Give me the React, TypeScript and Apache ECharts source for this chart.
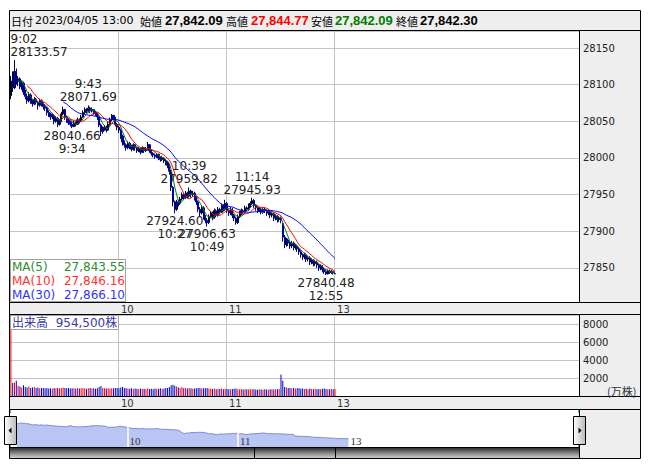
import React, { useEffect, useRef } from 'react';
import * as echarts from 'echarts';

// 1-minute candles [open, close, low, high], 9:00 .. 11:30, 12:31 .. 13:00
const candles: number[][] = [
  [28085, 28105, 28080, 28112], [28105, 28096, 28090, 28118], [28096, 28118, 28094, 28133.57], [28118, 28104, 28100, 28122], [28104, 28108, 28098, 28112],
  [28108, 28097, 28094, 28110], [28097, 28102, 28093, 28106], [28102, 28090, 28086, 28104], [28090, 28084, 28080, 28093], [28084, 28078, 28074, 28088],
  [28078, 28086, 28076, 28090], [28086, 28078, 28074, 28088], [28078, 28074, 28070, 28080], [28074, 28080, 28072, 28083], [28080, 28076, 28073, 28082],
  [28076, 28072, 28066, 28078], [28072, 28078, 28070, 28081], [28078, 28074, 28070, 28080], [28074, 28070, 28066, 28076], [28070, 28068, 28064, 28073],
  [28068, 28062, 28058, 28070], [28062, 28060, 28056, 28065], [28060, 28056, 28052, 28062], [28056, 28058, 28053, 28061], [28058, 28050, 28046, 28060],
  [28050, 28054, 28048, 28057], [28054, 28046, 28042, 28056], [28046, 28050, 28044, 28053], [28050, 28060, 28049, 28063], [28060, 28066, 28058, 28070],
  [28066, 28055, 28052, 28067], [28055, 28052, 28048, 28058], [28052, 28048, 28045, 28054], [28048, 28046, 28043, 28051], [28046, 28043, 28040.66, 28049],
  [28043, 28048, 28042, 28051], [28048, 28046, 28043, 28050], [28046, 28052, 28045, 28055], [28052, 28050, 28047, 28054], [28050, 28056, 28049, 28059],
  [28056, 28062, 28055, 28065], [28062, 28066, 28060, 28069], [28066, 28064, 28061, 28068], [28064, 28068, 28062, 28071.69], [28068, 28064, 28061, 28070],
  [28064, 28066, 28062, 28069], [28066, 28062, 28059, 28067], [28062, 28060, 28057, 28064], [28060, 28056, 28052, 28062], [28056, 28045, 28042, 28058],
  [28045, 28036, 28030, 28047], [28036, 28040, 28033, 28043], [28040, 28042, 28037, 28045], [28042, 28038, 28035, 28044], [28038, 28046, 28037, 28049],
  [28046, 28052, 28044, 28055], [28052, 28058, 28050, 28060], [28058, 28054, 28051, 28059], [28054, 28046, 28043, 28056], [28046, 28042, 28038, 28048],
  [28042, 28038, 28034, 28044], [28038, 28030, 28026, 28040], [28030, 28022, 28017, 28032], [28022, 28018, 28014, 28024], [28018, 28014, 28010, 28020],
  [28014, 28020, 28012, 28023], [28020, 28016, 28012, 28022], [28016, 28012, 28009, 28018], [28012, 28018, 28010, 28020], [28018, 28014, 28010, 28019],
  [28014, 28010, 28007, 28016], [28010, 28012, 28008, 28015], [28012, 28008, 28005, 28014], [28008, 28014, 28007, 28016], [28014, 28010, 28007, 28015],
  [28010, 28012, 28008, 28015], [28012, 28018, 28010, 28022], [28018, 28010, 28007, 28019], [28010, 28006, 28003, 28012], [28006, 28004, 28001, 28008],
  [28004, 28002, 27999, 28006], [28002, 28005, 28000, 28007], [28005, 28000, 27997, 28006], [28000, 27998, 27995, 28002], [27998, 28000, 27996, 28003],
  [28000, 27996, 27993, 28001], [27996, 27994, 27990, 27998], [27994, 27990, 27986, 27996], [27990, 27982, 27978, 27992], [27982, 27960, 27955, 27984],
  [27960, 27940, 27934, 27962], [27940, 27930, 27924.6, 27942], [27930, 27940, 27928, 27943], [27940, 27938, 27934, 27943], [27938, 27944, 27936, 27947],
  [27944, 27950, 27942, 27953], [27950, 27946, 27943, 27952], [27946, 27952, 27944, 27955], [27952, 27948, 27945, 27954], [27948, 27955, 27946, 27959.82],
  [27955, 27950, 27946, 27957], [27950, 27952, 27947, 27955], [27952, 27946, 27942, 27954], [27946, 27940, 27936, 27948], [27940, 27930, 27926, 27942],
  [27930, 27925, 27920, 27933], [27925, 27932, 27923, 27935], [27932, 27920, 27916, 27934], [27920, 27915, 27911, 27922], [27915, 27912, 27906.63, 27918],
  [27912, 27920, 27910, 27923], [27920, 27925, 27918, 27928], [27925, 27918, 27915, 27927], [27918, 27928, 27917, 27931], [27928, 27922, 27919, 27930],
  [27922, 27930, 27920, 27933], [27930, 27926, 27923, 27932], [27926, 27935, 27925, 27938], [27935, 27930, 27927, 27937], [27930, 27938, 27928, 27943],
  [27938, 27928, 27925, 27940], [27928, 27925, 27921, 27930], [27925, 27930, 27922, 27933], [27930, 27922, 27918, 27932], [27922, 27918, 27914, 27924],
  [27918, 27912, 27909, 27920], [27912, 27920, 27910, 27923], [27920, 27925, 27918, 27928], [27925, 27928, 27922, 27931], [27928, 27926, 27923, 27930],
  [27926, 27932, 27924, 27935], [27932, 27930, 27927, 27934], [27930, 27935, 27928, 27938], [27935, 27938, 27932, 27941], [27938, 27942, 27936, 27945.93],
  [27942, 27935, 27932, 27944], [27935, 27932, 27928, 27937], [27932, 27928, 27925, 27934], [27928, 27930, 27926, 27933], [27930, 27926, 27923, 27932],
  [27926, 27930, 27924, 27933], [27930, 27928, 27925, 27932], [27928, 27925, 27921, 27930], [27925, 27927, 27922, 27930], [27927, 27922, 27918, 27929],
  [27922, 27924, 27919, 27927], [27924, 27918, 27914, 27926], [27918, 27920, 27915, 27923], [27920, 27916, 27912, 27922], [27916, 27918, 27913, 27921],
  [27918, 27915, 27911, 27920],
  [27910, 27892, 27886, 27912], [27892, 27882, 27877, 27895], [27882, 27888, 27879, 27891], [27888, 27884, 27880, 27890], [27884, 27880, 27876, 27886],
  [27880, 27884, 27877, 27887], [27884, 27878, 27874, 27886], [27878, 27880, 27875, 27883], [27880, 27876, 27872, 27882], [27876, 27872, 27868, 27878],
  [27872, 27868, 27864, 27874], [27868, 27865, 27861, 27870], [27865, 27868, 27862, 27871], [27868, 27862, 27858, 27870], [27862, 27864, 27859, 27867],
  [27864, 27858, 27854, 27866], [27858, 27860, 27855, 27863], [27860, 27856, 27852, 27862], [27856, 27858, 27853, 27861], [27858, 27854, 27850, 27860],
  [27854, 27850, 27846, 27856], [27850, 27852, 27847, 27855], [27852, 27848, 27844, 27854], [27848, 27845, 27842, 27850], [27845, 27842, 27840.48, 27847],
  [27842, 27846, 27841, 27848], [27846, 27844, 27842, 27848], [27844, 27845, 27842, 27847], [27845, 27843, 27841, 27846], [27842.09, 27842.3, 27842.09, 27844.77],
];

// volume per minute (万株)
const volumes: number[] = [
  7400, 1450, 1500, 1700, 1150, 1050, 950, 1200, 1000, 950,
  1050, 900, 950, 1000, 900, 950, 850, 900, 880, 850,
  900, 820, 870, 800, 900, 850, 880, 820, 900, 950,
  880, 850, 900, 820, 870, 850, 800, 880, 820, 850,
  900, 870, 800, 850, 880, 820, 850, 800, 870, 1000,
  1100, 900, 850, 820, 870, 800, 850, 820, 880, 900,
  850, 950, 1000, 880, 850, 820, 800, 850, 780, 820,
  800, 760, 820, 780, 800, 760, 820, 780, 800, 760,
  820, 780, 800, 850, 780, 820, 880, 900, 1000, 1200,
  1250, 1150, 1050, 950, 900, 1000, 850, 900, 820, 880,
  850, 800, 820, 850, 900, 880, 820, 870, 850, 900,
  820, 800, 780, 820, 760, 800, 780, 820, 760, 800,
  780, 740, 760, 780, 800, 820, 760, 740, 780, 720,
  760, 740, 720, 760, 780, 740, 720, 700, 740, 720,
  700, 740, 720, 700, 740, 760, 720, 740, 760, 780,
  2400,
  1700, 1000, 950, 900, 880, 850, 900, 820, 850, 880,
  800, 820, 780, 800, 760, 820, 780, 740, 800, 760,
  780, 740, 800, 820, 780, 760, 740, 780, 760, 780,
];

const tickTimes = ['10:00', '11:00', '13:00'];
const tickLabels = ['10', '11', '13'];
const priceAxisMin = 27803.6;
const priceAxisMax = 28173.2;
const volumeAxisMax = 9000;

const annotations = [
  { time: '9:02', at: '9:02', value: 28133.57, side: 'top' },
  { time: '9:43', at: '9:43', value: 28071.69, side: 'top' },
  { time: '9:34', at: '9:34', value: 28040.66, side: 'bottom' },
  { time: '10:39', at: '10:39', value: 27959.82, side: 'top' },
  { time: '10:27', at: '10:31', value: 27924.6, side: 'bottom' },
  { time: '10:49', at: '10:49', value: 27906.63, side: 'bottom' },
  { time: '11:14', at: '11:14', value: 27945.93, side: 'top' },
  { time: '12:55', at: '12:55', value: 27840.48, side: 'bottom' },
];

const headerDate = '2023/04/05 13:00';
const headerOpen = '27,842.09';
const headerHigh = '27,844.77';
const headerLow = '27,842.09';
const headerClose = '27,842.30';
const maPeriods = [5, 10, 30];
const maLabels = ['MA(5)', 'MA(10)', 'MA(30)'];
const maLast = ['27,843.55', '27,846.16', '27,866.10'];
const maColors = ['#008000', '#ff0000', '#0000ff'];
const maTextColors = ['#2e8b2e', '#ff3333', '#3333ff'];
const volumeText = '出来高  954,500株';

const SLOTS = 316;
function fmt(m: number) {
  return `${Math.floor(m / 60)}:${String(m % 60).padStart(2, '0')}`;
}
function buildCategories() {
  const out: string[] = [];
  for (let m = 9 * 60; m <= 11 * 60 + 30; m++) out.push(fmt(m));
  for (let m = 12 * 60 + 31; out.length < SLOTS; m++) out.push(fmt(m));
  return out;
}
function movingAverage(n: number, closes: number[]) {
  return closes.map((_, i) => {
    if (i < n - 1) return '-';
    let s = 0;
    for (let k = i - n + 1; k <= i; k++) s += closes[k];
    return +(s / n).toFixed(2);
  });
}

const F = 'DejaVu Sans, Noto Sans CJK JP, sans-serif';
const J = 'Noto Sans CJK JP, sans-serif';
const B = 'Liberation Sans, Arial, sans-serif';

export default function App() {
  const ref = useRef<HTMLDivElement>(null);
  useEffect(() => {
    document.body.style.margin = '0';
    const chart = echarts.init(ref.current!, undefined, { renderer: 'svg' });
    const cats = buildCategories();
    const closes = candles.map((c) => c[1]);
    const tickIdx = tickTimes.map((t) => cats.indexOf(t));
    const isTick = (i: number) => tickIdx.includes(i);
    const tickName = (v: string) => tickLabels[tickTimes.indexOf(v)] ?? '';
    const bg = '#eeeeee';
    const line = (x1: number, y1: number, x2: number, y2: number, stroke = '#000') => ({
      type: 'line', z: 100, silent: true, shape: { x1, y1, x2, y2 }, style: { stroke, lineWidth: 1 },
    });
    const txt = (x: number, y: number, text: string, o: any = {}) => ({
      type: 'text', z: 101, x, y, silent: true,
      style: { text, fill: '#000', fontSize: 11, fontFamily: J, verticalAlign: 'middle', ...o },
    });
    const handleGrad = new echarts.graphic.LinearGradient(0, 0, 1, 0, [
      { offset: 0, color: '#ffffff' }, { offset: 1, color: '#b8b8b8' },
    ]);
    const barGrad = new echarts.graphic.LinearGradient(0, 0, 0, 1, [
      { offset: 0, color: '#2e2e2e' }, { offset: 0.55, color: '#8c8c8c' }, { offset: 1, color: '#cfcfcf' },
    ]);

    const gridLine = { show: true, lineStyle: { color: '#c4c4c4', width: 1 } };
    const xBase = (gridIndex: number) => ({
      type: 'category', gridIndex, data: cats, boundaryGap: true,
      axisLine: { show: false }, axisTick: { show: false },
      splitLine: { ...gridLine, interval: (i: number) => isTick(i) },
      axisLabel: {
        interval: (i: number) => isTick(i), formatter: tickName, align: 'left',
        margin: 2, fontSize: 10, fontFamily: F, color: '#333', padding: [0, 0, 0, 2],
      },
    });
    const plain = (v: number) => String(v);

    chart.setOption({
      animation: false,
      backgroundColor: '#ffffff',
      grid: [
        { left: 10, top: 31, width: 569, height: 271 },
        { left: 10, top: 315, width: 569, height: 81 },
        { left: 17, top: 415, width: 580, height: 32 },
      ],
      xAxis: [
        xBase(0),
        xBase(1),
        {
          type: 'category', gridIndex: 2, data: cats, boundaryGap: false, z: 10,
          axisLine: { show: false }, axisTick: { show: false }, splitLine: { show: false },
          axisLabel: {
            inside: true, interval: (i: number) => isTick(i), formatter: tickName, align: 'left',
            margin: 1, fontSize: 11, fontFamily: 'Liberation Serif, serif', color: '#333', padding: [0, 0, 0, 2],
          },
        },
      ],
      yAxis: [
        {
          type: 'value', gridIndex: 0, position: 'right', min: priceAxisMin, max: priceAxisMax, splitNumber: 7,
          axisLine: { show: false }, axisTick: { show: false }, splitLine: gridLine,
          axisLabel: { margin: 4, fontSize: 10, fontFamily: F, color: '#222', showMinLabel: false, showMaxLabel: false, formatter: plain },
        },
        {
          type: 'value', gridIndex: 1, position: 'right', min: 0, max: volumeAxisMax, interval: 2000,
          axisLine: { show: false }, axisTick: { show: false }, splitLine: gridLine,
          axisLabel: { margin: 4, fontSize: 10, fontFamily: F, color: '#222', showMinLabel: false, showMaxLabel: false, formatter: plain },
        },
        {
          type: 'value', gridIndex: 2, min: 27700, max: 28250, show: false,
        },
      ],
      series: [
        {
          type: 'candlestick', xAxisIndex: 0, yAxisIndex: 0, data: candles, barWidth: '90%',
          itemStyle: { color: '#10107a', color0: '#000099', borderColor: '#000033', borderColor0: '#000099', borderWidth: 1 },
          markPoint: {
            symbol: 'circle', symbolSize: 1, silent: true,
            itemStyle: { color: 'rgba(0,0,0,0)' },
            data: annotations.map((a) => ({
              coord: [a.at, a.value], value: a.value, name: a.time,
              label: {
                show: true, position: a.side, distance: 1,
                formatter: a.side === 'top' ? `${a.time}\n${a.value.toFixed(2)}` : `${a.value.toFixed(2)}\n${a.time}`,
                color: '#222', fontSize: 12, fontFamily: F, lineHeight: 13,
                ...(a.time === '9:02' ? { align: 'left', offset: [-4, 0] } : { align: 'center' }),
              },
            })),
          },
        },
        ...maPeriods.map((p, k) => ({
          type: 'line', xAxisIndex: 0, yAxisIndex: 0, data: movingAverage(p, closes),
          showSymbol: false, symbol: 'none', silent: true,
          lineStyle: { color: maColors[k], width: 1 },
        })),
        {
          type: 'bar', xAxisIndex: 1, yAxisIndex: 1, barWidth: 1, silent: true,
          data: volumes.map((v, i) => ({
            value: v, itemStyle: { color: candles[i][1] >= candles[i][0] ? '#ff0000' : '#0000cc' },
          })),
        },
        {
          type: 'line', xAxisIndex: 2, yAxisIndex: 2, data: closes, showSymbol: false, symbol: 'none', silent: true, z: 1,
          lineStyle: { color: '#7c88d4', width: 1 },
          areaStyle: { color: '#b9c6f4', origin: 'start', opacity: 1 },
          markLine: {
            silent: true, symbol: 'none', label: { show: false },
            lineStyle: { color: '#ffffff', width: 1.5, type: 'solid' },
            data: [{ xAxis: '10:00' }, { xAxis: '11:00' }],
          },
        },
      ],
      graphic: [
        { type: 'rect', z: -1, silent: true, shape: { x: 9, y: 10, width: 631, height: 20 }, style: { fill: bg } },
        { type: 'rect', z: -1, silent: true, shape: { x: 579, y: 30, width: 61, height: 428 }, style: { fill: bg } },
        { type: 'rect', z: -1, silent: true, shape: { x: 9, y: 302, width: 631, height: 12 }, style: { fill: bg } },
        { type: 'rect', z: -1, silent: true, shape: { x: 9, y: 396, width: 631, height: 13 }, style: { fill: bg } },
        { type: 'rect', z: 90, silent: true, shape: { x: 10, y: 448, width: 569, height: 10 }, style: { fill: barGrad } },
        { type: 'rect', z: 100, silent: true, shape: { x: 9.5, y: 10.5, width: 631, height: 448 }, style: { fill: 'none', stroke: '#000', lineWidth: 1 } },
        line(9, 30.5, 640, 30.5),
        line(579.5, 31, 579.5, 302),
        line(9, 302.5, 640, 302.5),
        line(9, 314.5, 640, 314.5),
        line(579.5, 315, 579.5, 396),
        line(9, 396.5, 640, 396.5),
        line(9, 409.5, 640, 409.5),
        line(579.5, 410, 579.5, 458),
        line(10, 447.5, 579, 447.5),
        line(254.5, 448, 254.5, 458),
        line(335.5, 448, 335.5, 458),
        line(10.5, 410, 10.5, 413, '#2cb8e0'),
        line(10.5, 444, 10.5, 447, '#2cb8e0'),
        line(578.5, 410, 578.5, 413, '#2cb8e0'),
        line(578.5, 444, 578.5, 447, '#2cb8e0'),
        // handles
        { type: 'rect', z: 110, silent: true, shape: { x: 4.5, y: 416.5, width: 12, height: 28 }, style: { fill: handleGrad, stroke: '#000', lineWidth: 1 } },
        { type: 'polygon', z: 111, silent: true, shape: { points: [[8.5, 430.5], [11.5, 427.5], [11.5, 433.5]] }, style: { fill: '#000' } },
        { type: 'rect', z: 110, silent: true, shape: { x: 573.5, y: 416.5, width: 12, height: 28 }, style: { fill: handleGrad, stroke: '#000', lineWidth: 1 } },
        { type: 'polygon', z: 111, silent: true, shape: { points: [[581.5, 430.5], [578.5, 427.5], [578.5, 433.5]] }, style: { fill: '#000' } },
        // header
        txt(11, 20.5, '日付'),
        txt(35, 20.5, headerDate, { fontSize: 11, fontFamily: F }),
        txt(140, 20.5, '始値'),
        txt(165, 20.5, headerOpen, { fontSize: 13, fontWeight: 'bold', fontFamily: B }),
        txt(226, 20.5, '高値'),
        txt(251, 20.5, headerHigh, { fontSize: 13, fontWeight: 'bold', fontFamily: B, fill: '#ff0000' }),
        txt(311, 20.5, '安値'),
        txt(335, 20.5, headerLow, { fontSize: 13, fontWeight: 'bold', fontFamily: B, fill: '#007a00' }),
        txt(396, 20.5, '終値'),
        txt(420, 20.5, headerClose, { fontSize: 13, fontWeight: 'bold', fontFamily: B }),
        // MA legend
        { type: 'rect', z: 100, silent: true, shape: { x: 10.5, y: 259.5, width: 115, height: 42 }, style: { fill: '#ffffff', stroke: '#a0a0a0', lineWidth: 1 } },
        ...maLabels.flatMap((l, k) => [
          txt(12, 266.5 + k * 14.3, l, { fontSize: 12, fontFamily: F, fill: maTextColors[k] }),
          txt(125, 266.5 + k * 14.3, maLast[k], { fontSize: 12, fontFamily: F, fill: maTextColors[k], align: 'right' }),
        ]),
        // volume label
        { type: 'rect', z: 100, silent: true, shape: { x: 10.5, y: 315.5, width: 108, height: 14 }, style: { fill: '#ffffff', stroke: '#a0a0a0', lineWidth: 1 } },
        txt(12, 323, volumeText, { fontSize: 12, fill: '#3a3aa8', fontFamily: F }),
        txt(607, 391, '(万株)', { fontSize: 11, fill: '#333' }),
      ],
    });
    return () => chart.dispose();
  }, []);
  return <div ref={ref} style={{ width: 653, height: 470 }} />;
}
